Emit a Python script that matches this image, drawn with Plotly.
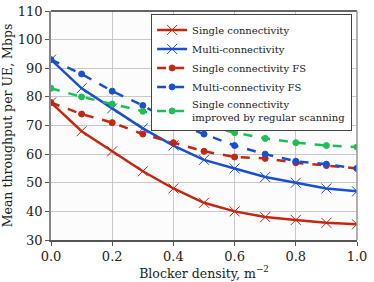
import plotly.graph_objects as go

x = [0.0, 0.1, 0.2, 0.3, 0.4, 0.5, 0.6, 0.7, 0.8, 0.9, 1.0]
single = [78, 68, 61, 54, 48, 43, 40, 38, 37, 36, 35.5]
multi = [93, 83, 76, 69, 63, 58, 55, 52, 50, 48, 47]
single_fs = [78, 74, 71, 67, 64, 61, 59, 58.5, 57, 56, 55]
multi_fs = [93, 88, 82, 77, 71, 67, 63, 60, 57.5, 56.5, 55]
scanning = [83, 80, 77.5, 75, 72, 70, 67.5, 65.5, 64, 63, 62.5]

names = ["Single connectivity", "Multi-connectivity", "Single connectivity FS",
         "Multi-connectivity FS", "Single connectivity<br>improved by regular scanning"]
RED = "#c4260f"
BLUE = "#1a4fd0"
GREEN = "#1cbf55"

fig = go.Figure()
specs = [
    (single, RED, "solid", "x-thin-open", 10),
    (multi, BLUE, "solid", "x-thin-open", 10),
    (single_fs, RED, "dash", "circle", 6),
    (multi_fs, BLUE, "dash", "circle", 6),
    (scanning, GREEN, "dash", "circle", 6),
]
for (ys, c, dash, sym, sz), n in zip(specs, names):
    fig.add_trace(go.Scatter(
        x=x, y=ys, name=n, mode="lines+markers",
        line=dict(color=c, width=2.5, dash=dash),
        marker=dict(symbol=sym, size=sz, color=c, line=dict(color=c, width=1)),
    ))

font = "DejaVu Serif"
fig.update_layout(
    width=374, height=282,
    margin=dict(l=51, r=17, t=11, b=42),
    paper_bgcolor="white", plot_bgcolor="#fcfcfc",
    font=dict(family=font, size=12, color="#222"),
    showlegend=True,
    legend=dict(x=0.984, y=0.985, xanchor="right", yanchor="top",
                bgcolor="white", bordercolor="#444", borderwidth=1,
                font=dict(family=font, size=10), tracegroupgap=0,
                itemwidth=30),
    xaxis=dict(range=[0, 1], tickvals=[0, 0.2, 0.4, 0.6, 0.8, 1.0],
               ticktext=["0.0", "0.2", "0.4", "0.6", "0.8", "1.0"],
               showgrid=True, gridcolor="#c8c8c8", gridwidth=1,
               showline=True, linecolor="#555", linewidth=1.5, mirror=False,
               ticks="outside", ticklen=4, tickcolor="#555",
               tickfont=dict(family=font, size=13), automargin=False,
               title=dict(text="Blocker density, m<sup>−2</sup>", font=dict(family=font, size=12.5), standoff=2),
               zeroline=False),
    yaxis=dict(range=[30, 110], tickvals=list(range(30, 111, 10)),
               showgrid=True, gridcolor="#c8c8c8", gridwidth=1,
               showline=True, linecolor="#888", linewidth=1.5,
               ticks="outside", ticklen=4, tickcolor="#555",
               tickfont=dict(family=font, size=13), automargin=False,
               title=dict(text="Mean throughput per UE, Mbps", font=dict(family=font, size=12.5), standoff=3),
               zeroline=False),
)
# frame top/right
fig.add_shape(type="line", xref="paper", yref="paper", x0=0, x1=1, y0=1, y1=1,
              line=dict(color="#333", width=1.5))
fig.add_shape(type="line", xref="paper", yref="paper", x0=1, x1=1, y0=0, y1=1,
              line=dict(color="#999", width=1.5))
fig.write_html("out.html", config={"displayModeBar": False},
               post_script="document.body.style.margin='0';")
